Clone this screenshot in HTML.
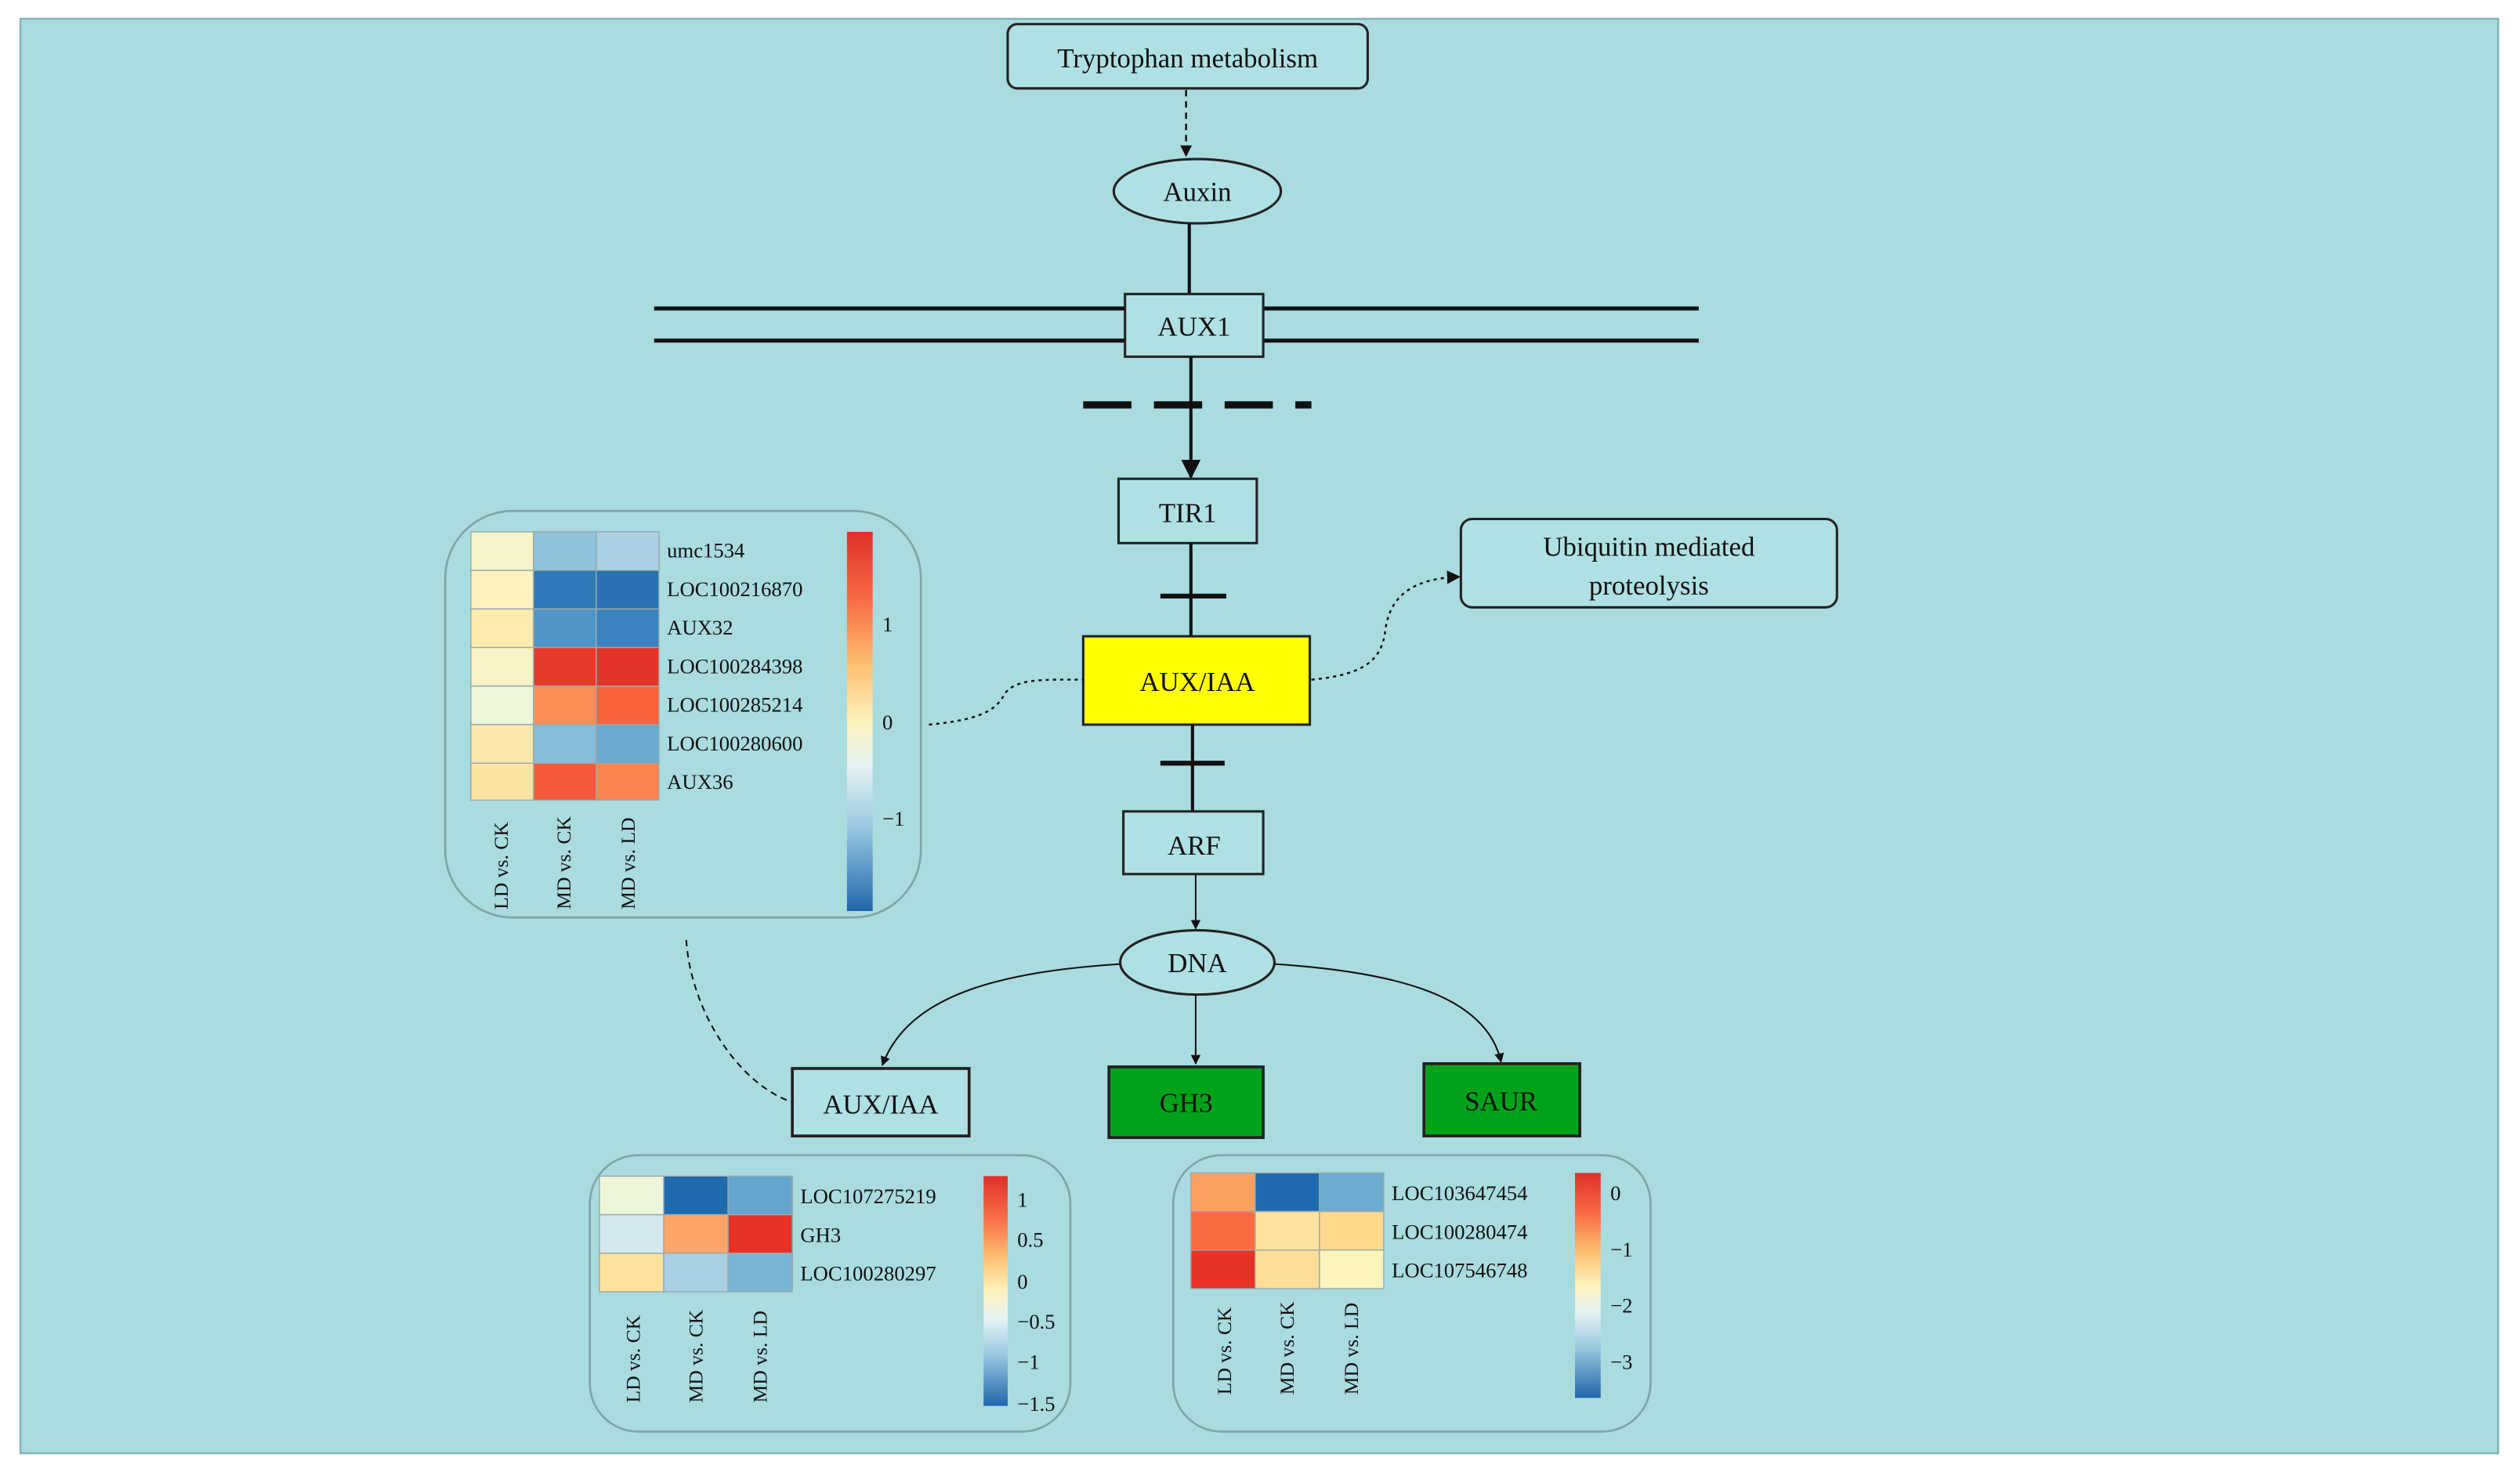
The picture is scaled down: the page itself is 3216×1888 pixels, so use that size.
<!DOCTYPE html>
<html><head><meta charset="utf-8"><style>
html,body{margin:0;padding:0;background:#fff;}
svg{display:block;}
text{font-family:"Liberation Serif",serif;fill:#111;}
</style></head><body>
<svg width="3216" height="1888" viewBox="0 0 1568 920.5" preserveAspectRatio="none" xmlns="http://www.w3.org/2000/svg">
<defs>
<marker id="ah" viewBox="0 0 10 10" refX="9" refY="5" markerWidth="6" markerHeight="6" orient="auto-start-reverse"><path d="M0,0L10,5L0,10z" fill="#111"/></marker>
<marker id="ahs" viewBox="0 0 10 10" refX="9" refY="5" markerWidth="7" markerHeight="7" orient="auto"><path d="M0,0L10,5L0,10z" fill="#111"/></marker>
<linearGradient id="cb" x1="0" y1="0" x2="0" y2="1">
<stop offset="0" stop-color="#e0302a"/><stop offset="0.18" stop-color="#f86c45"/><stop offset="0.35" stop-color="#fdbf71"/><stop offset="0.5" stop-color="#fdf2bc"/><stop offset="0.62" stop-color="#e4f3f5"/><stop offset="0.78" stop-color="#98c8e0"/><stop offset="1" stop-color="#2166ac"/>
</linearGradient>
</defs>
<rect x="0" y="0" width="1568" height="920.5" fill="#fff"/>
<rect x="12.7" y="11.7" width="1541.7" height="892.8" fill="#a9dbdf" stroke="#7fb3b5" stroke-width="1.2"/>

<!-- Tryptophan -->
<rect x="627" y="15" width="224" height="40" rx="6" fill="#afe0e4" stroke="#222" stroke-width="1.5"/>
<text x="739" y="42" font-size="17" text-anchor="middle">Tryptophan metabolism</text>
<line x1="738" y1="56" x2="738" y2="97" stroke="#111" stroke-width="1.2" stroke-dasharray="4,3" marker-end="url(#ah)"/>
<ellipse cx="745" cy="119" rx="52" ry="20" fill="#afe0e4" stroke="#222" stroke-width="1.5"/>
<text x="745" y="125" font-size="17" text-anchor="middle">Auxin</text>
<line x1="740" y1="139" x2="740" y2="183" stroke="#111" stroke-width="2"/>
<!-- membrane -->
<line x1="407" y1="192" x2="1057" y2="192" stroke="#111" stroke-width="2.5"/>
<line x1="407" y1="212" x2="1057" y2="212" stroke="#111" stroke-width="2.5"/>
<rect x="700" y="183" width="86" height="39" fill="#afe0e4" stroke="#222" stroke-width="1.5"/>
<text x="743" y="209" font-size="17" text-anchor="middle">AUX1</text>
<line x1="741" y1="222" x2="741" y2="297" stroke="#111" stroke-width="2" marker-end="url(#ah)"/>
<line x1="674" y1="252" x2="816" y2="252" stroke="#111" stroke-width="4.5" stroke-dasharray="30,14"/>
<rect x="696" y="298" width="86" height="40" fill="#afe0e4" stroke="#222" stroke-width="1.5"/>
<text x="739" y="325" font-size="17" text-anchor="middle">TIR1</text>
<line x1="741" y1="338" x2="741" y2="396" stroke="#111" stroke-width="2"/>
<line x1="722" y1="371" x2="763" y2="371" stroke="#111" stroke-width="3"/>
<rect x="674" y="396" width="141" height="55" fill="#ffff00" stroke="#222" stroke-width="1.5"/>
<text x="745" y="430" font-size="17" text-anchor="middle">AUX/IAA</text>
<line x1="742" y1="451" x2="742" y2="505" stroke="#111" stroke-width="2"/>
<line x1="722" y1="475" x2="762" y2="475" stroke="#111" stroke-width="3"/>
<rect x="699" y="505" width="87" height="39" fill="#afe0e4" stroke="#222" stroke-width="1.5"/>
<text x="743" y="532" font-size="17" text-anchor="middle">ARF</text>
<line x1="744" y1="544" x2="744" y2="578" stroke="#111" stroke-width="1" marker-end="url(#ah)"/>
<ellipse cx="745" cy="599" rx="48" ry="20" fill="#afe0e4" stroke="#222" stroke-width="1.5"/>
<text x="745" y="605" font-size="17" text-anchor="middle">DNA</text>
<path d="M697,600 C620,605 565,620 549,663" fill="none" stroke="#111" stroke-width="1" marker-end="url(#ah)"/>
<line x1="744" y1="619" x2="744" y2="662" stroke="#111" stroke-width="1" marker-end="url(#ah)"/>
<path d="M793,600 C870,605 925,620 934,661" fill="none" stroke="#111" stroke-width="1" marker-end="url(#ah)"/>
<rect x="493" y="665" width="110" height="42" fill="#afe0e4" stroke="#222" stroke-width="1.8"/>
<text x="548" y="693" font-size="17" text-anchor="middle">AUX/IAA</text>
<rect x="690" y="664" width="96" height="44" fill="#00a21a" stroke="#222" stroke-width="1.8"/>
<text x="738" y="692" font-size="17" text-anchor="middle">GH3</text>
<rect x="886" y="662" width="97" height="45" fill="#00a21a" stroke="#222" stroke-width="1.8"/>
<text x="934" y="691" font-size="17" text-anchor="middle">SAUR</text>

<!-- Ubiquitin -->
<rect x="909" y="323" width="234" height="55" rx="7" fill="#afe0e4" stroke="#222" stroke-width="1.5"/>
<text x="1026" y="346" font-size="17" text-anchor="middle">Ubiquitin mediated</text>
<text x="1026" y="370" font-size="17" text-anchor="middle">proteolysis</text>
<path d="M816,423 C850,420 860,410 862,392 C865,370 880,360 908,359" fill="none" stroke="#111" stroke-width="1.2" stroke-dasharray="2,2.5" marker-end="url(#ahs)"/>
<path d="M578,451 C610,448 620,442 625,432 C632,422 650,423 674,423" fill="none" stroke="#111" stroke-width="1.2" stroke-dasharray="2,2.5"/>
<path d="M427,585 C430,630 460,675 493,686" fill="none" stroke="#111" stroke-width="1" stroke-dasharray="4,3"/>

<!-- Panel 1 -->
<rect x="277" y="318" width="296" height="253" rx="42" fill="#a9dbdf" stroke="#7fa6a8" stroke-width="1.3"/>
<g stroke="#9aa" stroke-width="0.7">
<rect x="293" y="331" width="39" height="24" fill="#f5f4c8"/><rect x="332" y="331" width="39" height="24" fill="#8fc2dc"/><rect x="371" y="331" width="39" height="24" fill="#a9d3e5"/>
<rect x="293" y="355" width="39" height="24" fill="#fdf2c0"/><rect x="332" y="355" width="39" height="24" fill="#2f7ab9"/><rect x="371" y="355" width="39" height="24" fill="#2b71b1"/>
<rect x="293" y="379" width="39" height="24" fill="#fdebb0"/><rect x="332" y="379" width="39" height="24" fill="#4f95c6"/><rect x="371" y="379" width="39" height="24" fill="#3b82be"/>
<rect x="293" y="403" width="39" height="24" fill="#f7f3c5"/><rect x="332" y="403" width="39" height="24" fill="#e83a2a"/><rect x="371" y="403" width="39" height="24" fill="#e3322a"/>
<rect x="293" y="427" width="39" height="24" fill="#eef6dc"/><rect x="332" y="427" width="39" height="24" fill="#fc8e58"/><rect x="371" y="427" width="39" height="24" fill="#f8623d"/>
<rect x="293" y="451" width="39" height="24" fill="#fde9ae"/><rect x="332" y="451" width="39" height="24" fill="#87bcd9"/><rect x="371" y="451" width="39" height="24" fill="#6aa9d0"/>
<rect x="293" y="475" width="39" height="23" fill="#fde4a0"/><rect x="332" y="475" width="39" height="23" fill="#f55a38"/><rect x="371" y="475" width="39" height="23" fill="#fb8451"/>
</g>
<g font-size="13">
<text x="415" y="347">umc1534</text><text x="415" y="371">LOC100216870</text><text x="415" y="395">AUX32</text><text x="415" y="419">LOC100284398</text><text x="415" y="443">LOC100285214</text><text x="415" y="467">LOC100280600</text><text x="415" y="491">AUX36</text>
</g>
<rect x="527" y="331" width="16" height="236" fill="url(#cb)"/>
<g font-size="13"><text x="549" y="393">1</text><text x="549" y="454">0</text><text x="549" y="514">−1</text></g>
<g font-size="12.5">
<text transform="translate(316,566) rotate(-90)">LD vs. CK</text>
<text transform="translate(355,566) rotate(-90)">MD vs. CK</text>
<text transform="translate(395,566) rotate(-90)">MD vs. LD</text>
</g>

<!-- Panel 2 -->
<rect x="367" y="719" width="299" height="172" rx="30" fill="#a9dbdf" stroke="#7fa6a8" stroke-width="1.3"/>
<g stroke="#9aa" stroke-width="0.7">
<rect x="373" y="732" width="40" height="24" fill="#edf5db"/><rect x="413" y="732" width="40" height="24" fill="#1f69ad"/><rect x="453" y="732" width="40" height="24" fill="#64a5ce"/>
<rect x="373" y="756" width="40" height="24" fill="#d3e9ef"/><rect x="413" y="756" width="40" height="24" fill="#fca56a"/><rect x="453" y="756" width="40" height="24" fill="#e83228"/>
<rect x="373" y="780" width="40" height="24" fill="#fee2a0"/><rect x="413" y="780" width="40" height="24" fill="#a9d0e4"/><rect x="453" y="780" width="40" height="24" fill="#7ab5d5"/>
</g>
<g font-size="13"><text x="498" y="749">LOC107275219</text><text x="498" y="773">GH3</text><text x="498" y="797">LOC100280297</text></g>
<rect x="612" y="732" width="15" height="143" fill="url(#cb)"/>
<g font-size="13"><text x="633" y="751">1</text><text x="633" y="776">0.5</text><text x="633" y="802">0</text><text x="633" y="827">−0.5</text><text x="633" y="852">−1</text><text x="633" y="878">−1.5</text></g>
<g font-size="12.5">
<text transform="translate(398,873) rotate(-90)">LD vs. CK</text>
<text transform="translate(437,873) rotate(-90)">MD vs. CK</text>
<text transform="translate(477,873) rotate(-90)">MD vs. LD</text>
</g>

<!-- Panel 3 -->
<rect x="730" y="719" width="297" height="172" rx="30" fill="#a9dbdf" stroke="#7fa6a8" stroke-width="1.3"/>
<g stroke="#9aa" stroke-width="0.7">
<rect x="741" y="730" width="40" height="24" fill="#fca062"/><rect x="781" y="730" width="40" height="24" fill="#1f69ad"/><rect x="821" y="730" width="40" height="24" fill="#6eabd0"/>
<rect x="741" y="754" width="40" height="24" fill="#f96a43"/><rect x="781" y="754" width="40" height="24" fill="#fee3a0"/><rect x="821" y="754" width="40" height="24" fill="#fed88c"/>
<rect x="741" y="778" width="40" height="24" fill="#e83228"/><rect x="781" y="778" width="40" height="24" fill="#fede98"/><rect x="821" y="778" width="40" height="24" fill="#fdf3bc"/>
</g>
<g font-size="13"><text x="866" y="747">LOC103647454</text><text x="866" y="771">LOC100280474</text><text x="866" y="795">LOC107546748</text></g>
<rect x="980" y="730" width="16" height="140" fill="url(#cb)"/>
<g font-size="13"><text x="1002" y="747">0</text><text x="1002" y="782">−1</text><text x="1002" y="817">−2</text><text x="1002" y="852">−3</text></g>
<g font-size="12.5">
<text transform="translate(766,868) rotate(-90)">LD vs. CK</text>
<text transform="translate(805,868) rotate(-90)">MD vs. CK</text>
<text transform="translate(845,868) rotate(-90)">MD vs. LD</text>
</g>
</svg>
</body></html>
